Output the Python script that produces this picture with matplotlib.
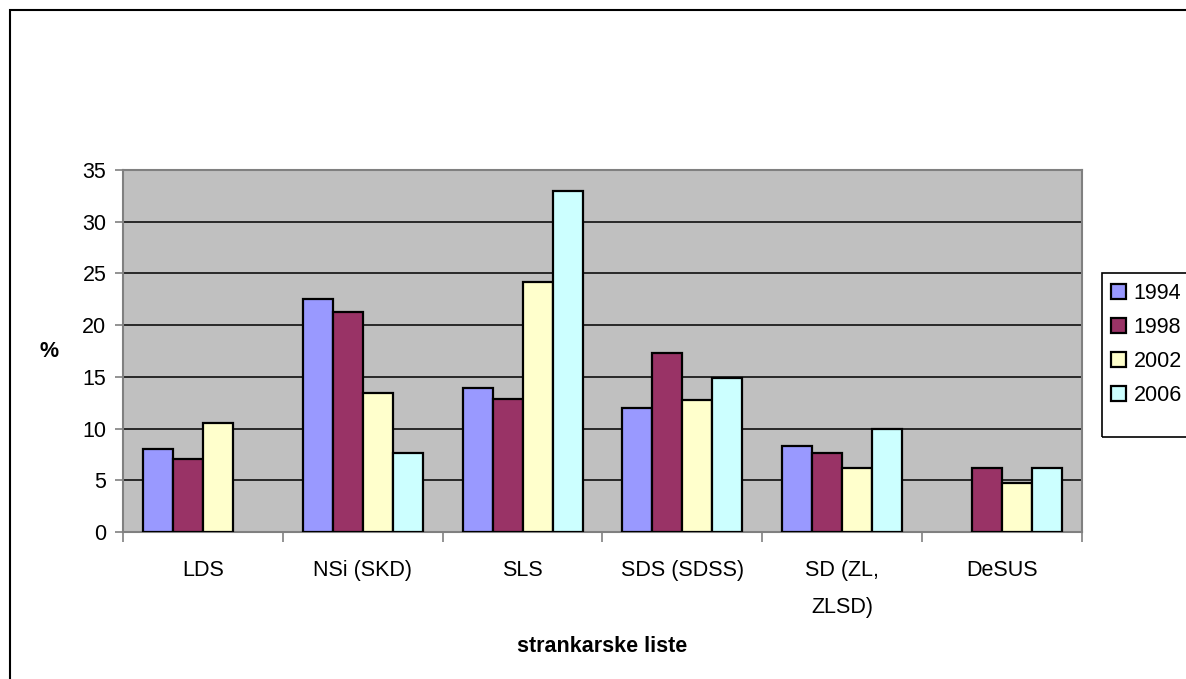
import matplotlib.pyplot as plt
import numpy as np
from matplotlib.patches import Rectangle

# election results by party list, % of votes
parties = ['LDS', 'NSi (SKD)', 'SLS', 'SDS (SDSS)', 'SD (ZL,\nZLSD)', 'DeSUS']
years = ['1994', '1998', '2002', '2006']
v1994 = [8.0, 22.5, 13.9, 12.0, 8.3, 0.0]
v1998 = [7.1, 21.3, 12.9, 17.3, 7.6, 6.2]
v2002 = [10.5, 13.4, 24.2, 12.8, 6.2, 4.7]
v2006 = [0.0, 7.6, 33.0, 14.9, 10.0, 6.2]
colors = ['#9999FF', '#993366', '#FFFFCC', '#CCFFFF']

plt.rcParams['font.family'] = ['Liberation Sans', 'DejaVu Sans']
fs = 15.5
W, H = 1186, 679

fig = plt.figure(figsize=(11.86, 6.79), dpi=100)
ax = fig.add_axes([0.1037, 0.2165, 0.8086, 0.5331])

x = np.arange(len(parties))
w = 0.1875
series = [v1994, v1998, v2002, v2006]
handles = []
for i, (vals, c) in enumerate(zip(series, colors)):
    vals = np.array(vals)
    mask = vals > 0
    ax.bar(x[mask] + (i - 1.5) * w, vals[mask], width=w, color=c,
           edgecolor='black', linewidth=1.6, zorder=3)
    handles.append(Rectangle((0, 0), 1, 1, facecolor=c, edgecolor='black', linewidth=1.6))

ax.set_xlim(-0.5, len(parties) - 0.5)
ax.set_ylim(0, 35)
ax.set_yticks(range(0, 36, 5))
ax.set_facecolor('#C0C0C0')
ax.yaxis.grid(True, color='black', linewidth=1.1, zorder=1)
ax.set_axisbelow(True)
for s in ax.spines.values():
    s.set_color('#808080')
    s.set_linewidth(1.5)

# category labels in the middle, tick marks on the boundaries
ax.set_xticks(x)
ax.set_xticklabels(parties, fontsize=fs, linespacing=2.0)
ax.tick_params(axis='x', length=0, pad=20)
ax.set_xticks(np.arange(len(parties) + 1) - 0.5, minor=True)
ax.tick_params(axis='x', which='minor', length=7, width=1.2, color='#808080')
ax.tick_params(axis='y', labelsize=fs, length=6, width=1.2, color='#808080', pad=6)

ax.set_ylabel('%', fontsize=fs, fontweight='bold', rotation=0, labelpad=24, va='center')
ax.set_xlabel('strankarske liste', fontsize=fs, fontweight='bold', labelpad=13)

# legend entries without frame, frame drawn separately (taller at the bottom)
fig.legend(handles, years, loc='upper left', bbox_to_anchor=(1111 / W, 1 - 283 / H),
           fontsize=fs, frameon=False,
           handlelength=0.7, handleheight=0.7, handletextpad=0.35,
           labelspacing=0.6, borderpad=0, borderaxespad=0)
fig.patches.append(Rectangle((1102 / W, 1 - 437 / H), 0.2, 164 / H,
                             transform=fig.transFigure, fill=False,
                             edgecolor='black', linewidth=1.2))

# outer chart frame, cut off at right and bottom
fig.patches.append(Rectangle((10 / W, -0.1), 1.2, 1 - 10 / H + 0.1,
                             transform=fig.transFigure, fill=False,
                             edgecolor='black', linewidth=1.5))

fig.savefig('out.png', dpi=100)
